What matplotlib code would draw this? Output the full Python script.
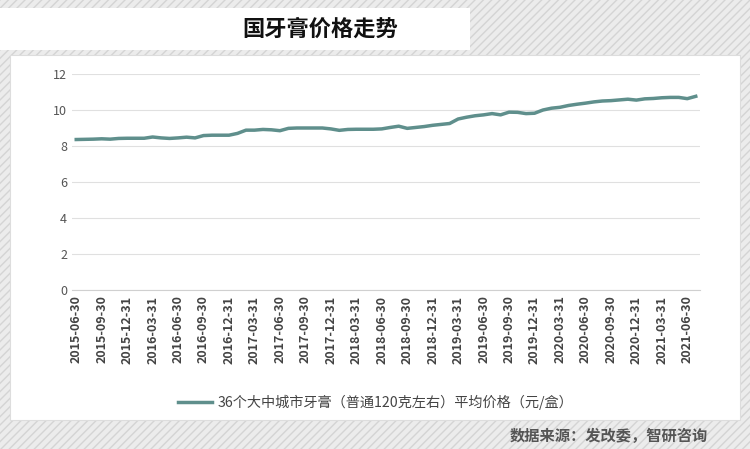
import matplotlib
matplotlib.use("Agg")
import matplotlib.pyplot as plt
from matplotlib.patches import Rectangle

plt.rcParams['font.family'] = ['Noto Sans CJK SC', 'DejaVu Sans']

prices = [8.36, 8.37, 8.38, 8.40, 8.38, 8.42, 8.43, 8.43, 8.43, 8.50, 8.45, 8.42,
          8.45, 8.49, 8.45, 8.58, 8.60, 8.60, 8.60, 8.70, 8.88, 8.88, 8.92, 8.90,
          8.85, 8.98, 9.00, 9.00, 9.00, 9.00, 8.95, 8.87, 8.92, 8.93, 8.93, 8.93,
          8.95, 9.03, 9.10, 8.98, 9.03, 9.08, 9.15, 9.20, 9.25, 9.50, 9.60, 9.68,
          9.73, 9.80, 9.73, 9.88, 9.87, 9.80, 9.82, 10.00, 10.10, 10.15, 10.25, 10.32,
          10.38, 10.45, 10.50, 10.52, 10.56, 10.60, 10.55, 10.62, 10.64, 10.68, 10.70, 10.70,
          10.63, 10.76]
tick_labels = []
for y in range(2015, 2022):
    for md in ["03-31", "06-30", "09-30", "12-31"]:
        tick_labels.append(f"{y}-{md}")
tick_labels = tick_labels[1:26]
series_name = "36个大中城市牙膏（普通120克左右）平均价格（元/盒）"
title = "国牙膏价格走势"
source = "数据来源：发改委，智研咨询"

fig = plt.figure(figsize=(7.5, 4.49), dpi=100)
fig.patch.set_facecolor("#e9e9e9")
bg = fig.add_axes([0, 0, 1, 1], zorder=-10)
bg.set_xlim(0, 750); bg.set_ylim(449, 0); bg.axis("off")
bg.add_patch(Rectangle((0, 0), 750, 449, facecolor="#ececec", edgecolor="#d4d4d4", hatch="////", lw=0))
bg.add_patch(Rectangle((0, 8), 470, 42, facecolor="white", edgecolor="none"))
bg.add_patch(Rectangle((10, 55), 730, 365, facecolor="white", edgecolor="#dddddd", lw=0.8))
bg.text(320, 29, title, ha="center", va="center", fontsize=16, fontweight="bold", color="#111111")
bg.text(708, 436, source, ha="right", va="center", fontsize=11, fontweight="bold", color="#555555")
bg.plot([178, 212], [402, 402], color="#5f8f8c", lw=2.5)
bg.text(218, 402, series_name, ha="left", va="center", fontsize=10.2, color="#444444")

ax = fig.add_axes([72/750, 1-290/449, 628/750, 216/449])
x = list(range(len(prices)))
ax.plot(x, prices, color="#5f8f8c", lw=2.5)
ax.set_ylim(0, 12)
ax.set_xlim(-0.5, len(prices) - 0.5)
ax.set_yticks(range(0, 13, 2))
ax.set_xticks(range(0, len(prices), 3))
ax.set_xticklabels(tick_labels, rotation=90, fontsize=9, fontweight="bold", color="#444444")
ax.tick_params(axis="y", labelsize=9, colors="#555555", length=0)
ax.tick_params(axis="x", length=0, pad=4)
ax.grid(axis="y", color="#e0e0e0", lw=0.8)
for s in ["top", "right", "left"]:
    ax.spines[s].set_visible(False)
ax.spines["bottom"].set_color("#d0d0d0")
ax.set_facecolor("white")
fig.savefig("out.png", dpi=100)
